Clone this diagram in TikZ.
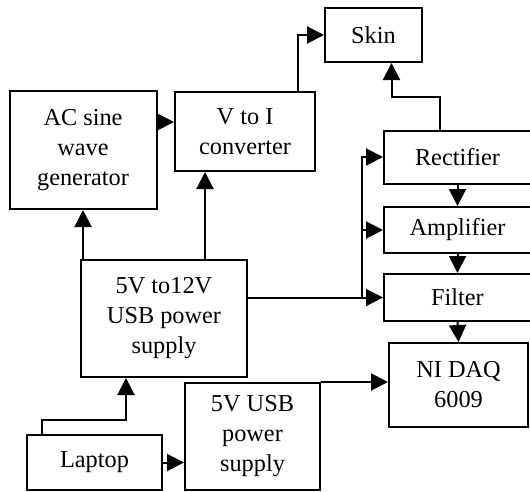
\documentclass[tikz,border=0pt]{standalone}
\usepackage{fontspec}
\setmainfont{Liberation Serif}
\usetikzlibrary{arrows.meta}
\begin{document}
\begin{tikzpicture}[x=1pt,y=-1pt,
  box/.style={draw, line width=2pt, align=center, inner sep=0pt,
    font=\fontsize{24.3}{30}\selectfont},
  arr/.style={line width=2pt, -{Triangle[length=17pt,width=17pt]}}]
\path[use as bounding box] (0,0) rectangle (530,491);
\clip (0,0) rectangle (530,491);
\node[box, minimum width=97pt, minimum height=54pt] (skin) at (373.5,35) {Skin};
\node[box, minimum width=147pt, minimum height=118pt] (ac) at (83,150) {AC sine\\wave\\generator};
\node[box, minimum width=140pt, minimum height=79pt] (vi) at (245,131.5) {V to I\\converter};
\node[box, minimum width=147pt, minimum height=53pt] (rect) at (457.5,157) {Rectifier};
\node[box, minimum width=147pt, minimum height=46pt] (amp) at (457.5,230) {Amplifier};
\node[box, minimum width=147pt, minimum height=47pt] (filt) at (457.5,297.5) {Filter};
\node[box, minimum width=139pt, minimum height=84pt] (daq) at (458.5,385) {NI DAQ\\6009};
\node[box, minimum width=166pt, minimum height=117pt] (ps12) at (164,318.5) {5V to12V\\USB power\\supply};
\node[box, minimum width=135pt, minimum height=55pt] (lap) at (94.5,462.5) {Laptop};
\node[box, minimum width=135pt, minimum height=107pt] (usb) at (252.5,436.5) {5V USB\\power\\supply};
% connectors
\coordinate (p1) at ([yshift=28pt]ac.east);
\draw[arr] (p1) -- (p1 -| vi.west);
\draw[arr] ([xshift=52.5pt]vi.north) |- (skin.west);
\draw[arr] ([xshift=-17.5pt]rect.north) -- ++(0,-32.5) -| ([xshift=18pt]skin.south);
\draw[arr] (rect.south) -- (amp.north);
\draw[arr] (amp.south) -- (filt.north);
\draw[arr] (filt.south) -- (daq.north);
\coordinate (j) at ([xshift=-21pt]filt.west);
\draw[arr] (ps12.east |- filt.west) -- (filt.west);
\draw[arr] (j) |- (rect.west);
\draw[arr] (j |- amp.west) -- (amp.west);
\draw[arr] (ps12.north -| ac.south) -- (ac.south);
\coordinate (q) at ([xshift=-40pt]vi.south);
\draw[arr] (q |- ps12.north) -- (q);
\draw[arr] ([xshift=-52.5pt]lap.north) -- ++(0,-14) -| ([xshift=-38pt]ps12.south);
\draw[arr] (lap.east) -- (lap.east -| usb.west);
\draw[arr] (usb.north east) -- (usb.north east -| daq.west);
\end{tikzpicture}
\end{document}
